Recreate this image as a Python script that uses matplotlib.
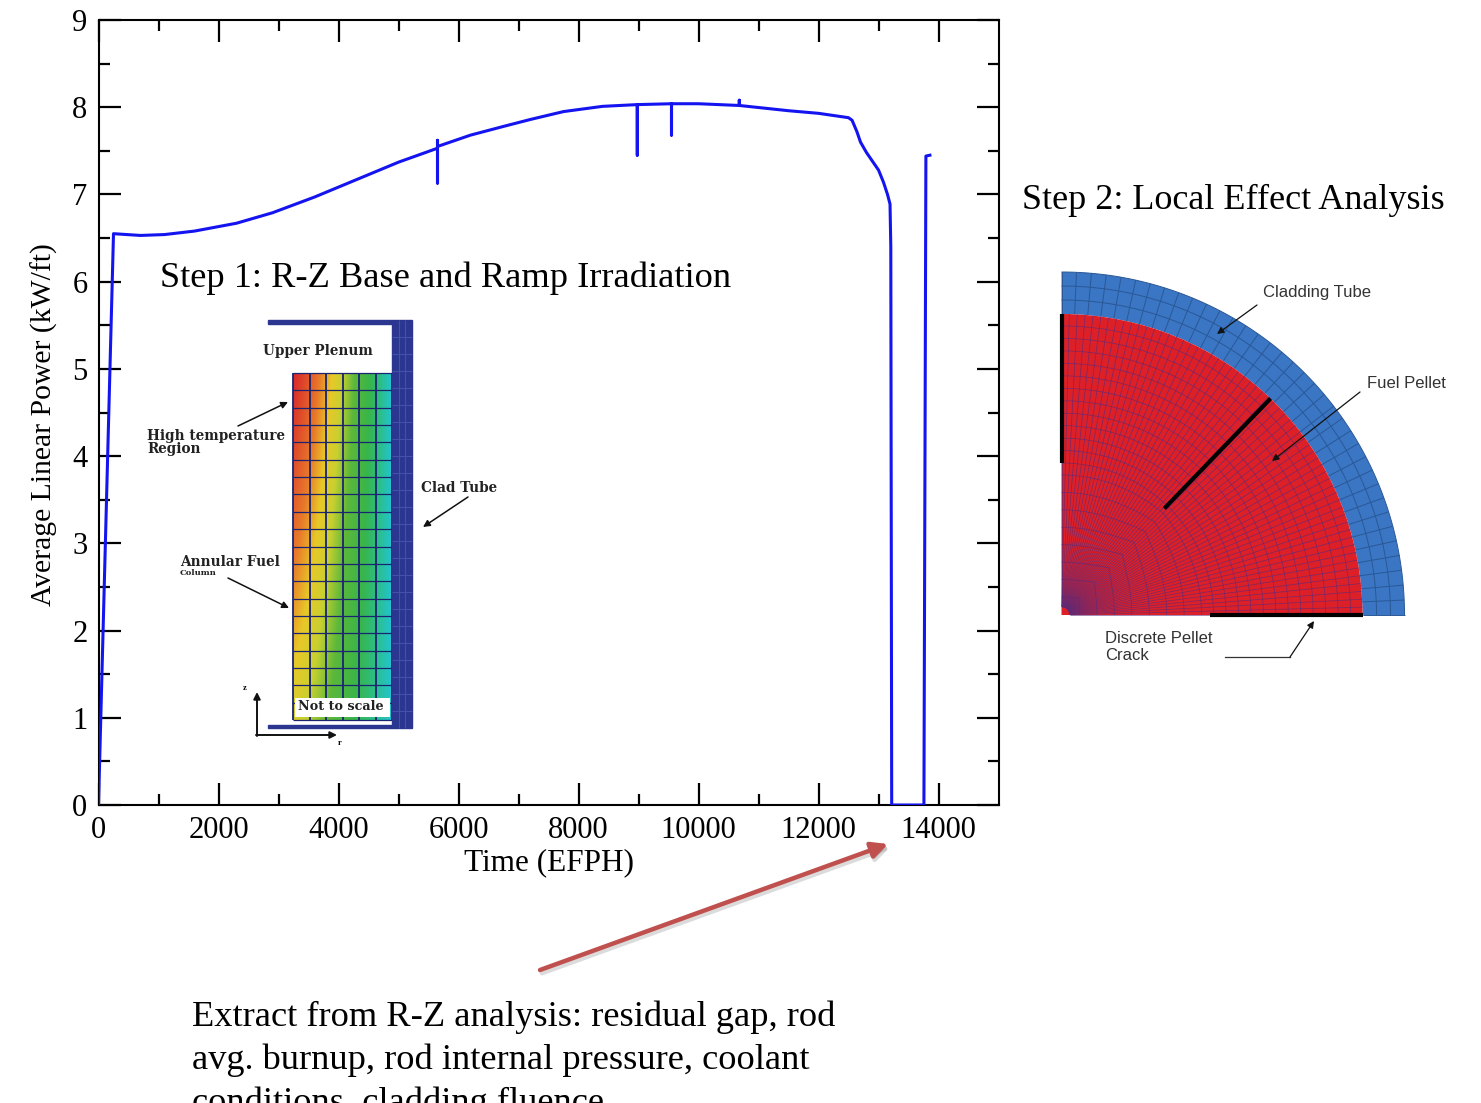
import numpy as np
import matplotlib
matplotlib.use('Agg')
import matplotlib.pyplot as plt
from matplotlib.patches import Rectangle, Wedge
from matplotlib.collections import LineCollection
from matplotlib.colors import LinearSegmentedColormap

# power history (EFPH, kW/ft)
time = [0, 250, 700, 1100, 1600, 2300, 2900, 3600, 4300, 5000, 5650, 5650, 5650, 5650,
        6200, 6750, 7200, 7750, 8400, 8980, 8980, 8980, 9550, 9550, 9550, 10000,
        10680, 10680, 10680, 11500, 12000, 12500, 12560, 12640, 12700, 12800, 12900,
        13000, 13083, 13150, 13192, 13205, 13220, 13757, 13790, 13857]
power = [0, 6.55, 6.53, 6.54, 6.58, 6.67, 6.79, 6.97, 7.17, 7.37, 7.53, 7.13, 7.62, 7.55,
         7.68, 7.78, 7.86, 7.95, 8.01, 8.03, 7.45, 8.03, 8.04, 7.68, 8.04, 8.04,
         8.02, 8.08, 8.02, 7.96, 7.93, 7.88, 7.85, 7.72, 7.6, 7.48, 7.38,
         7.28, 7.14, 7.0, 6.89, 6.4, 0, 0, 7.44, 7.45]

x_ticks = [0, 2000, 4000, 6000, 8000, 10000, 12000, 14000]
y_ticks = list(range(10))

step1_title = "Step 1: R-Z Base and Ramp Irradiation"
step2_title = "Step 2: Local Effect Analysis"
note_lines = ["Extract from R-Z analysis: residual gap, rod",
              "avg. burnup, rod internal pressure, coolant",
              "conditions, cladding fluence"]

serif = 'Liberation Serif'
sans = 'Liberation Sans'
plt.rcParams['font.family'] = serif

W, H = 1481, 1103
fig = plt.figure(figsize=(W / 100, H / 100), dpi=100)
fig.patch.set_facecolor('white')

# ---- main chart
ax = fig.add_axes([98.5 / W, (H - 805) / H, 900 / W, 785 / H])
ax.plot(time, power, color='#1414f0', lw=2.2, zorder=3)
ax.set_xlim(0, 15000)
ax.set_ylim(0, 9)
ax.set_xticks(x_ticks)
ax.set_yticks(y_ticks)
ax.set_xticks(np.arange(1000, 15000, 2000), minor=True)
ax.set_yticks(np.arange(0.5, 9, 1.0), minor=True)
ax.tick_params(which='major', direction='in', length=16, width=1.6,
               top=True, right=True, labelsize=22, pad=8)
ax.tick_params(which='minor', direction='in', length=8, width=1.6,
               top=True, right=True)
for s in ax.spines.values():
    s.set_linewidth(1.5)
ax.set_xlabel("Time (EFPH)", fontsize=22.5, labelpad=2)
ax.set_ylabel("Average Linear Power (kW/ft)", fontsize=21.3)
ax.yaxis.set_label_coords(-0.045, 0.484)

# ---- overlay in pixel coordinates for the illustrations and notes
ov = fig.add_axes([0, 0, 1, 1], zorder=5)
ov.set_xlim(0, W)
ov.set_ylim(H, 0)
ov.axis('off')
ov.patch.set_alpha(0)

ov.text(160, 278, step1_title, fontsize=26.2, va='center', ha='left')
ov.text(1022, 200, step2_title, fontsize=26, va='center', ha='left')
for i, line in enumerate(note_lines):
    ov.text(192, 1026 + 43 * i, line, fontsize=26.2, va='baseline', ha='left')

# red pointer arrow with a soft shadow
ov.annotate('', xy=(890, 847), xytext=(542, 973),
            arrowprops=dict(arrowstyle='-|>', color='#9a9a9a', alpha=0.35, lw=3.5,
                            mutation_scale=24, shrinkA=0, shrinkB=0))
ov.annotate('', xy=(888, 844), xytext=(540, 970),
            arrowprops=dict(arrowstyle='-|>', color='#c0504d', lw=3.2,
                            mutation_scale=24, shrinkA=0, shrinkB=0))

# ---- R-Z inset (left)
navy = '#2b3691'
temp_cmap = LinearSegmentedColormap.from_list('temp', [
    (0, '#22c4d0'), (0.12, '#2cbf8a'), (0.25, '#38b54a'), (0.42, '#5cb83a'),
    (0.55, '#c8d030'), (0.66, '#e8c828'), (0.78, '#e87a2a'), (1, '#d8282a')])
gx = np.linspace(0, 1, 120)
gy = np.linspace(0, 1, 240)[:, None]
field = (1 - gx ** 1.15) * (1 - 0.4 * gy)
fx0, fx1, fy0, fy1 = 293, 392, 373, 720
ov.imshow(field, cmap=temp_cmap, vmin=0, vmax=1, extent=(fx0, fx1, fy1, fy0),
          aspect='auto', interpolation='bilinear', zorder=1)
vsegs = [[(x, fy0), (x, fy1)] for x in np.linspace(fx0, fx1, 7)]
hsegs = [[(fx0, y), (fx1, y)] for y in np.linspace(fy0, fy1, 21)]
ov.add_collection(LineCollection(vsegs, colors='#1a2470', linewidths=1.3, zorder=2))
ov.add_collection(LineCollection(hsegs, colors='#1a2470', linewidths=0.9, zorder=2))
ov.add_patch(Rectangle((392, 320), 19.5, 408, color=navy, zorder=2))
csegs = [[(x, 320), (x, 728)] for x in (398.5, 405)] + \
        [[(392, y), (411.5, y)] for y in np.arange(337, 728, 17)]
ov.add_collection(LineCollection(csegs, colors='#4352a8', linewidths=0.8, zorder=3))
ov.add_patch(Rectangle((268, 320), 124, 3.5, color=navy, zorder=2))
ov.add_patch(Rectangle((268, 724.5), 124, 3.5, color=navy, zorder=2))
ov.add_patch(Rectangle((295, 698), 95, 19, facecolor='white', edgecolor='none', zorder=3))
ov.set_xlim(0, W)
ov.set_ylim(H, 0)

lab = dict(fontsize=9.8, fontweight='bold', color='#222222', family='DejaVu Serif')
ov.text(263, 351, "Upper Plenum", ha='left', va='center', **lab)
ov.text(298, 707, "Not to scale", ha='left', va='center', zorder=4,
        **dict(lab, fontsize=9.2))
ov.text(147, 436, "High temperature", ha='left', va='center', **lab)
ov.text(147, 449, "Region", ha='left', va='center', **lab)
ov.text(180, 562, "Annular Fuel", ha='left', va='center', **lab)
ov.text(180, 573, "Column", ha='left', va='center', fontsize=6, fontweight='bold',
        color='#222222', family='DejaVu Serif')
ov.text(421, 488, "Clad Tube", ha='left', va='center', **lab)
ov.text(245, 688, "z", ha='center', va='center', fontsize=6, fontweight='bold')
ov.text(340, 743, "r", ha='center', va='center', fontsize=6, fontweight='bold')

def small_arrow(tail, head, lw=1.1):
    ov.annotate('', xy=head, xytext=tail, zorder=6,
                arrowprops=dict(arrowstyle='-|>', color='#111111', lw=lw,
                                mutation_scale=10, shrinkA=0, shrinkB=0))

small_arrow((238, 426), (288, 402))
small_arrow((228, 578), (289, 608))
small_arrow((468, 497), (423, 527))
small_arrow((257, 736), (257, 692), lw=1.4)
small_arrow((256, 735), (337, 735), lw=1.4)

# ---- quarter pellet cross-section (right)
cx, cy = 1061.5, 615
r_fuel, r_clad = 301, 343

def pol(r, th):
    t = np.radians(th)
    return cx + r * np.cos(t), cy - r * np.sin(t)

ov.add_patch(Wedge((cx, cy), r_clad, -90, 0, width=r_clad - r_fuel,
                   facecolor='#3a76c4', edgecolor='none', zorder=2))
ov.add_patch(Wedge((cx, cy), r_fuel, -90, 0, facecolor='#dd2027',
                   edgecolor='none', zorder=2))

ths = np.linspace(0, 90, 181)
clad_segs = [np.column_stack(pol(r, ths)) for r in (315, 329, r_clad)]
clad_segs += [np.array([pol(r_fuel, a), pol(r_clad, a)]) for a in np.arange(0, 90.1, 2.5)]
ov.add_collection(LineCollection(clad_segs, colors='#2a5896', linewidths=0.7, zorder=3))

fuel_segs = [np.column_stack(pol(r, ths)) for r in np.linspace(152, 289, 12)]
for s in np.linspace(18, 140, 8):
    w = s / 150
    rr = s * ((1 - w) / np.maximum(np.cos(np.radians(ths)), np.sin(np.radians(ths))) + w)
    fuel_segs.append(np.column_stack(pol(rr, ths)))
fuel_segs += [np.array([pol(8, a), pol(r_fuel, a)]) for a in np.arange(0, 90.1, 1.5)]
ov.add_collection(LineCollection(fuel_segs, colors='#5a2a7a', linewidths=0.55,
                                 alpha=0.7, zorder=3))

crack_segs = [np.array([pol(152, 90), pol(r_fuel, 90)]),
              np.array([pol(148, 46), pol(r_fuel, 46)]),
              np.array([pol(148, 0), pol(r_fuel, 0)])]
ov.add_collection(LineCollection(crack_segs, colors='black', linewidths=3, zorder=4))

lab2 = dict(fontsize=12, color='#333333', family=sans, ha='left', va='center')
ov.text(1263, 293, "Cladding Tube", **lab2)
ov.text(1367, 383, "Fuel Pellet", **lab2)
ov.text(1105, 647, "Discrete Pellet\nCrack", linespacing=1.15, **lab2)
small_arrow((1257, 305), (1217, 334), lw=0.9)
small_arrow((1360, 392), (1272, 461), lw=0.9)
ov.plot([1225, 1290], [657, 657], color='#333333', lw=0.9, zorder=6)
small_arrow((1290, 657), (1314, 621), lw=0.9)

fig.savefig('out.png', dpi=100, facecolor='white')
